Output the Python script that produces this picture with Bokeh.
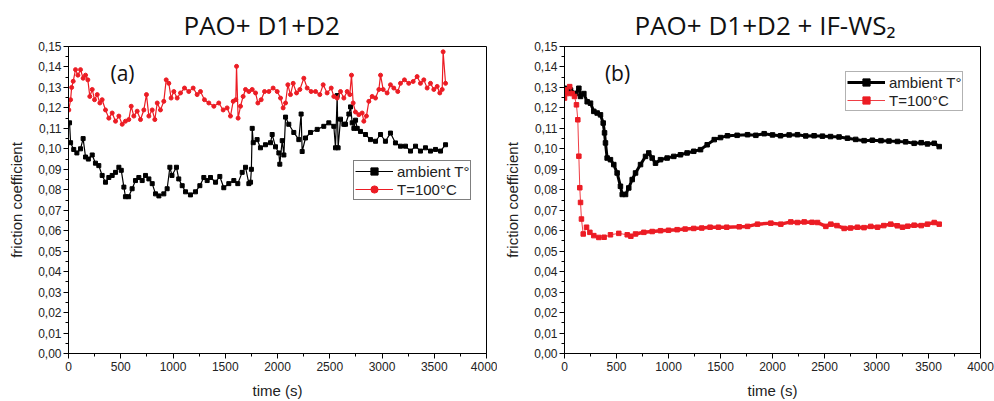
from bokeh.plotting import figure
from bokeh.layouts import row
from bokeh.models import (Range1d, SingleIntervalTicker, CustomJSTickFormatter, Label,
                          ColumnDataSource, CDSView, IndexFilter)
from bokeh.embed import file_html
from bokeh.resources import INLINE

# ---------------- data ----------------
# (a) PAO+ D1+D2, ambient temperature
a_amb_t = [10, 20, 50, 80, 115, 140, 163, 190, 227, 258, 290, 322, 354, 386, 418, 450, 482, 505, 530, 545,
           575, 609, 641, 673, 705, 737, 769, 801, 833, 865, 912, 944, 970, 990, 1033, 1055, 1088, 1120, 1167,
           1215, 1257, 1295, 1327, 1359, 1407, 1448, 1486, 1534, 1582, 1620, 1662, 1694, 1726, 1742, 1750, 1758,
           1768, 1805, 1837, 1885, 1933, 1949, 1981, 2013, 2022, 2045, 2061, 2077, 2108, 2156, 2204, 2226, 2236,
           2268, 2316, 2380, 2443, 2491, 2539, 2555, 2571, 2580, 2603, 2635, 2651, 2683, 2699, 2715, 2731, 2747,
           2763, 2794, 2842, 2890, 2938, 2986, 3033, 3081, 3129, 3177, 3225, 3273, 3321, 3368, 3416, 3464, 3512,
           3560, 3608]
a_amb_v = [0.1127, 0.103, 0.0997, 0.098, 0.100, 0.105, 0.096, 0.095, 0.097, 0.093, 0.0918, 0.087, 0.0837, 0.086,
           0.087, 0.0885, 0.091, 0.0895, 0.0813, 0.0766, 0.0766, 0.0805, 0.0845, 0.086, 0.0845, 0.087, 0.0853,
           0.083, 0.078, 0.077, 0.078, 0.0805, 0.091, 0.087, 0.091, 0.0853, 0.082, 0.079, 0.0775, 0.079, 0.082,
           0.086, 0.0845, 0.086, 0.0837, 0.0865, 0.081, 0.083, 0.0845, 0.083, 0.0885, 0.091, 0.083, 0.0837, 0.090,
           0.110, 0.103, 0.1045, 0.1005, 0.102, 0.103, 0.107, 0.101, 0.098, 0.0925, 0.104, 0.097, 0.1155, 0.112,
           0.108, 0.1045, 0.117, 0.0987, 0.1053, 0.108, 0.1095, 0.111, 0.1127, 0.111, 0.1005, 0.126, 0.1005,
           0.1145, 0.112, 0.112, 0.117, 0.1205, 0.1127, 0.110, 0.114, 0.110, 0.1085, 0.107, 0.1045, 0.1037, 0.107,
           0.1037, 0.1077, 0.1029, 0.1013, 0.1013, 0.0989, 0.1013, 0.0989, 0.1005, 0.0989, 0.0997, 0.0989, 0.102]

# (a) PAO+ D1+D2, T = 100 °C
a_hot_t = [3, 20, 30, 45, 67, 90, 115, 140, 163, 185, 204, 227, 249, 275, 300, 322, 354, 386, 418, 450, 482, 514,
           545, 577, 600, 625, 657, 689, 721, 746, 769, 801, 826, 849, 880, 912, 935, 960, 982, 1008, 1040, 1072,
           1110, 1151, 1193, 1231, 1263, 1301, 1343, 1391, 1438, 1480, 1518, 1550, 1576, 1601, 1608, 1623, 1646,
           1671, 1694, 1726, 1758, 1790, 1812, 1844, 1876, 1917, 1958, 1997, 2029, 2054, 2077, 2099, 2124, 2150,
           2182, 2214, 2252, 2284, 2322, 2364, 2405, 2437, 2475, 2514, 2539, 2571, 2603, 2635, 2667, 2692, 2708,
           2724, 2746, 2778, 2810, 2826, 2851, 2874, 2906, 2938, 2970, 2986, 3011, 3049, 3081, 3113, 3151, 3177,
           3215, 3256, 3298, 3336, 3368, 3400, 3432, 3464, 3496, 3528, 3553, 3576, 3585, 3608]
a_hot_v = [0.119, 0.124, 0.130, 0.133, 0.1387, 0.136, 0.1387, 0.1345, 0.136, 0.1337, 0.1256, 0.129, 0.124, 0.1265,
           0.1224, 0.124, 0.119, 0.115, 0.1175, 0.1135, 0.116, 0.112, 0.1135, 0.1143, 0.1208, 0.116, 0.1184,
           0.1143, 0.119, 0.1265, 0.116, 0.119, 0.1143, 0.1224, 0.119, 0.1232, 0.1337, 0.132, 0.1248, 0.128,
           0.1248, 0.1273, 0.1297, 0.128, 0.1297, 0.1265, 0.128, 0.124, 0.1224, 0.1208, 0.1224, 0.119, 0.120,
           0.116, 0.1232, 0.124, 0.1403, 0.115, 0.1208, 0.1256, 0.129, 0.128, 0.129, 0.1273, 0.1224, 0.124, 0.128,
           0.128, 0.1297, 0.128, 0.1248, 0.120, 0.1224, 0.1313, 0.1265, 0.132, 0.1273, 0.129, 0.1345, 0.1297,
           0.128, 0.128, 0.1265, 0.1313, 0.1273, 0.1297, 0.1256, 0.1248, 0.128, 0.1248, 0.128, 0.1265, 0.136,
           0.1224, 0.118, 0.1167, 0.1175, 0.1135, 0.116, 0.1232, 0.1256, 0.1248, 0.129, 0.136, 0.129, 0.1273,
           0.1313, 0.1297, 0.128, 0.132, 0.1337, 0.132, 0.1329, 0.1353, 0.132, 0.1337, 0.1297, 0.132, 0.129,
           0.1305, 0.1273, 0.129, 0.1474, 0.132]

# (b) PAO+ D1+D2 + IF-WS2, ambient temperature
b_amb_t = [0, 30, 58, 106, 138, 154, 186, 218, 250, 282, 314, 346, 372, 385, 394, 410, 442, 474, 506, 538, 555,
           587, 618, 651, 683, 731, 779, 810, 843, 875, 923, 987, 1051, 1115, 1179, 1243, 1308, 1372, 1440, 1500,
           1567, 1660, 1760, 1840, 1920, 2000, 2077, 2160, 2240, 2320, 2400, 2480, 2558, 2640, 2721, 2800, 2881,
           2960, 3043, 3120, 3202, 3280, 3362, 3430, 3490, 3555, 3603]
b_amb_v = [0.1296, 0.128, 0.1287, 0.127, 0.1296, 0.1256, 0.127, 0.123, 0.1223, 0.1183, 0.1175, 0.1166, 0.1126,
           0.1078, 0.1029, 0.0955, 0.0947, 0.0923, 0.0882, 0.0817, 0.0777, 0.0777, 0.0809, 0.085, 0.0882, 0.0923,
           0.0963, 0.098, 0.0955, 0.093, 0.0947, 0.0955, 0.0963, 0.0971, 0.098, 0.0988, 0.0996, 0.102, 0.1045,
           0.1055, 0.1064, 0.1066, 0.1069, 0.1066, 0.1074, 0.1068, 0.1064, 0.1068, 0.1069, 0.1063, 0.1064, 0.1062,
           0.106, 0.1058, 0.1052, 0.1046, 0.104, 0.1042, 0.104, 0.1038, 0.1036, 0.1034, 0.1027, 0.1030, 0.1024,
           0.1027, 0.1011]

# (b) PAO+ D1+D2 + IF-WS2, T = 100 °C
b_hot_t = [0, 10, 26, 50, 74, 96, 115, 128, 138, 147, 154, 163, 180, 212, 244, 282, 330, 381, 442, 522, 603, 638,
           683, 763, 843, 923, 1000, 1083, 1160, 1243, 1320, 1400, 1480, 1560, 1680, 1760, 1856, 1984, 2080, 2176,
           2240, 2305, 2380, 2433, 2513, 2561, 2620, 2689, 2750, 2817, 2880, 2945, 3010, 3070, 3137, 3200, 3250,
           3300, 3362, 3430, 3490, 3555, 3603]
b_hot_v = [0.1248, 0.1288, 0.127, 0.1304, 0.127, 0.1256, 0.1215, 0.1142, 0.0964, 0.081, 0.0738, 0.0657, 0.0584,
           0.0617, 0.0592, 0.0576, 0.0567, 0.0568, 0.058, 0.0587, 0.058, 0.0573, 0.0584, 0.0592, 0.0596, 0.060,
           0.0602, 0.0605, 0.0608, 0.0611, 0.0613, 0.0617, 0.0617, 0.0617, 0.0619, 0.0621, 0.0632, 0.0637, 0.0632,
           0.0643, 0.0640, 0.0643, 0.0641, 0.064, 0.0621, 0.0632, 0.0625, 0.0611, 0.0613, 0.0617, 0.0615, 0.0621,
           0.0617, 0.0625, 0.0632, 0.0624, 0.0617, 0.0622, 0.0627, 0.0625, 0.0632, 0.064, 0.0632]

titles = ["PAO+ D1+D2", "PAO+ D1+D2 + IF-WS\u2082"]
panel_tags = ["(a)", "(b)"]
series_names = ["ambient T°", "T=100°C"]
x_label = "time (s)"
y_label = "friction coefficient"

RED = "#ec1c24"
AX_FONT = "Liberation Sans"
TITLE_FONT = "Open Sans"


def make_fig(width, border_left, border_right, title, title_offset):
    p = figure(width=width, height=401, output_backend="svg", toolbar_location=None,
               x_range=Range1d(0, 4000), y_range=Range1d(0, 0.15),
               min_border_left=border_left, min_border_right=border_right,
               min_border_top=43, min_border_bottom=48, title=title)
    p.title.align = "left"
    p.title.offset = title_offset
    p.title.text_font = TITLE_FONT
    p.title.text_font_size = "26px"
    p.title.text_font_style = "normal"
    p.title.text_color = "#111111"
    p.title.standoff = 8
    p.outline_line_color = "black"
    p.outline_line_alpha = 1
    p.outline_line_width = 1
    p.xgrid.visible = False
    p.ygrid.visible = False
    p.background_fill_color = "white"
    p.border_fill_color = "white"

    p.xaxis.ticker = SingleIntervalTicker(interval=500, num_minor_ticks=2)
    p.yaxis.ticker = SingleIntervalTicker(interval=0.01, num_minor_ticks=2)
    p.yaxis.formatter = CustomJSTickFormatter(code="return tick.toFixed(2).replace('.', ',');")
    p.xaxis.axis_label = x_label
    p.yaxis.axis_label = y_label
    for ax in (p.xaxis[0], p.yaxis[0]):
        ax.axis_line_color = "black"
        ax.major_tick_line_color = "black"
        ax.minor_tick_line_color = "black"
        ax.major_tick_in = 0
        ax.major_tick_out = 5
        ax.minor_tick_in = 0
        ax.minor_tick_out = 3
        ax.major_label_text_font = AX_FONT
        ax.major_label_text_font_size = "12px"
        ax.major_label_text_color = "#222222"
        ax.axis_label_text_font = AX_FONT
        ax.axis_label_text_font_size = "15px"
        ax.axis_label_text_font_style = "normal"
        ax.axis_label_text_color = "#222222"
    p.xaxis.major_label_standoff = 3
    p.xaxis.axis_label_standoff = 8
    p.yaxis.major_label_standoff = 2
    p.yaxis.axis_label_standoff = 10
    return p


def style_legend(p, loc, border):
    lg = p.legend[0]
    lg.location = loc
    lg.label_text_font = AX_FONT
    lg.label_text_font_size = "15px"
    lg.label_text_color = "#222222"
    lg.border_line_color = border
    lg.border_line_width = 1
    lg.background_fill_color = "white"
    lg.background_fill_alpha = 1
    lg.padding = 1
    lg.margin = 0
    lg.spacing = 0
    lg.label_height = 18
    lg.glyph_height = 18
    lg.glyph_width = 38
    lg.label_standoff = 4


# ---------------- panel (a) ----------------
p1 = make_fig(497, 68, 11, titles[0], 115)
src_a1 = ColumnDataSource(dict(t=a_amb_t, v=a_amb_v))
src_a2 = ColumnDataSource(dict(t=a_hot_t, v=a_hot_v))
p1.line("t", "v", source=src_a1, color="black", line_width=1.2, legend_label=series_names[0])
p1.scatter("t", "v", source=src_a1, marker="square", size=4, color="black", legend_label=series_names[0])
p1.line("t", "v", source=src_a2, color=RED, line_width=1.2, legend_label=series_names[1])
p1.scatter("t", "v", source=src_a2, marker="circle", size=4, color=RED, legend_label=series_names[1])
p1.add_layout(Label(x=517, y=0.137, text=panel_tags[0], text_font=TITLE_FONT, text_font_size="21px",
                    text_align="center", text_baseline="middle", text_color="#111111"))
style_legend(p1, (285, 153), "black")

# ---------------- panel (b) ----------------
p2 = make_fig(497, 67, 14, titles[1], 70)
src_b1 = ColumnDataSource(dict(t=b_amb_t, v=b_amb_v))
src_b2 = ColumnDataSource(dict(t=b_hot_t, v=b_hot_v))
p2.line("t", "v", source=src_b1, color="black", line_width=3, legend_label=series_names[0])
p2.scatter("t", "v", source=src_b1, marker="square", size=4.5, color="black", legend_label=series_names[0])
p2.line("t", "v", source=src_b2, color=RED, line_width=1, line_alpha=0.85, legend_label=series_names[1])
p2.scatter("t", "v", source=src_b2, marker="square", size=4.5, color=RED, legend_label=series_names[1])
band_idx = [i for i, t in enumerate(b_hot_t) if t >= 160]
p2.line("t", "v", source=src_b2, view=CDSView(filter=IndexFilter(band_idx)), color=RED, line_width=3.5)
p2.add_layout(Label(x=510, y=0.137, text=panel_tags[1], text_font=TITLE_FONT, text_font_size="21px",
                    text_align="center", text_baseline="middle", text_color="#111111"))
style_legend(p2, (281, 242), "#666666")

layout = row(p1, p2)
open("out.html", "w").write(file_html(layout, INLINE))
